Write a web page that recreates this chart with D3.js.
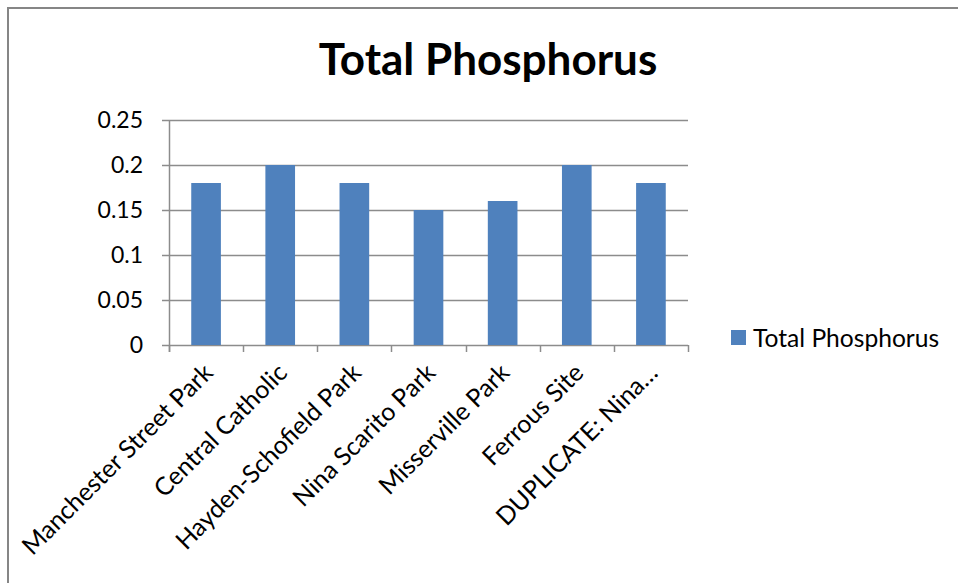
<!DOCTYPE html>
<html>
<head>
<meta charset="utf-8">
<script src="https://cdn.jsdelivr.net/npm/d3@7"></script>
<style>
body { margin: 0; background: #fff; }
text { font-family: Lato, "Noto Sans", sans-serif; fill: #000; }
</style>
</head>
<body>
<div id="chartContent"></div>
<script>
// data
var sites = ["Manchester Street Park", "Central Catholic", "Hayden-Schofield Park",
	"Nina Scarito Park", "Misserville Park", "Ferrous Site", "DUPLICATE: Nina…"];
var phosphorus = [0.18, 0.2, 0.18, 0.15, 0.16, 0.2, 0.18];
var yTicks = [0, 0.05, 0.1, 0.15, 0.2, 0.25];
var seriesName = "Total Phosphorus";
var chartTitle = "Total Phosphorus";

var width = 958, height = 583;
var margin = {top: 120, right: 270, bottom: 238, left: 169};

var svg = d3.select("#chartContent")
	.append("svg")
	.attr("width", width)
	.attr("height", height);

// outer chart frame (only top and left show inside the window)
svg.append("rect")
	.attr("x", 8).attr("y", 8)
	.attr("width", 1000).attr("height", 1000)
	.attr("fill", "none")
	.attr("stroke", "#868686")
	.attr("stroke-width", 2);

var x = d3.scaleBand()
	.domain(sites)
	.range([margin.left, width - margin.right])
	.paddingInner(0.6)
	.paddingOuter(0.3);

var y = d3.scaleLinear()
	.domain([0, 0.25])
	.range([height - margin.bottom, margin.top]);

// gridlines
svg.append("g")
	.selectAll("line")
	.data(yTicks)
	.enter()
	.append("line")
		.attr("x1", margin.left - 7)
		.attr("x2", width - margin.right)
		.attr("y1", function(d) { return Math.round(y(d)) + 0.5; })
		.attr("y2", function(d) { return Math.round(y(d)) + 0.5; })
		.attr("stroke", "#8c8c8c")
		.attr("stroke-width", 1.5);

// y labels
svg.append("g")
	.selectAll("text")
	.data(yTicks)
	.enter()
	.append("text")
		.attr("x", margin.left - 26)
		.attr("y", function(d) { return y(d); })
		.attr("dy", "0.36em")
		.attr("text-anchor", "end")
		.style("font-size", "23px")
		.text(function(d) { return d3.format("")(d); });

// y axis line
svg.append("line")
	.attr("x1", margin.left + 0.5).attr("x2", margin.left + 0.5)
	.attr("y1", margin.top).attr("y2", height - margin.bottom + 7)
	.attr("stroke", "#8c8c8c")
	.attr("stroke-width", 1.5);

// category tick marks at band edges
var step = x.step();
var edges = sites.map(function(d, i) { return margin.left + i * step; });
edges.push(width - margin.right);
svg.append("g")
	.selectAll("line")
	.data(edges)
	.enter()
	.append("line")
		.attr("x1", function(d) { return Math.round(d) + 0.5; })
		.attr("x2", function(d) { return Math.round(d) + 0.5; })
		.attr("y1", height - margin.bottom)
		.attr("y2", height - margin.bottom + 7)
		.attr("stroke", "#8c8c8c")
		.attr("stroke-width", 1.5);

// bars
svg.append("g")
	.selectAll("rect")
	.data(phosphorus)
	.enter()
	.append("rect")
		.attr("x", function(d, i) { return x(sites[i]); })
		.attr("y", function(d) { return y(d); })
		.attr("width", x.bandwidth())
		.attr("height", function(d) { return y(0) - y(d); })
		.attr("fill", "#4f81bd");

// rotated category labels
svg.append("g")
	.selectAll("text")
	.data(sites)
	.enter()
	.append("text")
		.attr("transform", function(d) {
			return "translate(" + (x(d) + x.bandwidth() / 2 - 4) + "," + (height - margin.bottom + 17) + ") rotate(-45)";
		})
		.attr("text-anchor", "end")
		.attr("dy", "0.7em")
		.style("font-size", "25px")
		.text(function(d) { return d; });

// title
svg.append("text")
	.attr("x", 488)
	.attr("y", 75)
	.attr("text-anchor", "middle")
	.style("font-size", "44px")
	.style("font-weight", "bold")
	.text(chartTitle);

// legend
var legend = svg.append("g").attr("transform", "translate(731,330)");
legend.append("rect")
	.attr("width", 15).attr("height", 15)
	.attr("fill", "#4f81bd");
legend.append("text")
	.attr("x", 22).attr("y", 8)
	.attr("dy", "0.36em")
	.style("font-size", "24.6px")
	.text(seriesName);
</script>
</body>
</html>
